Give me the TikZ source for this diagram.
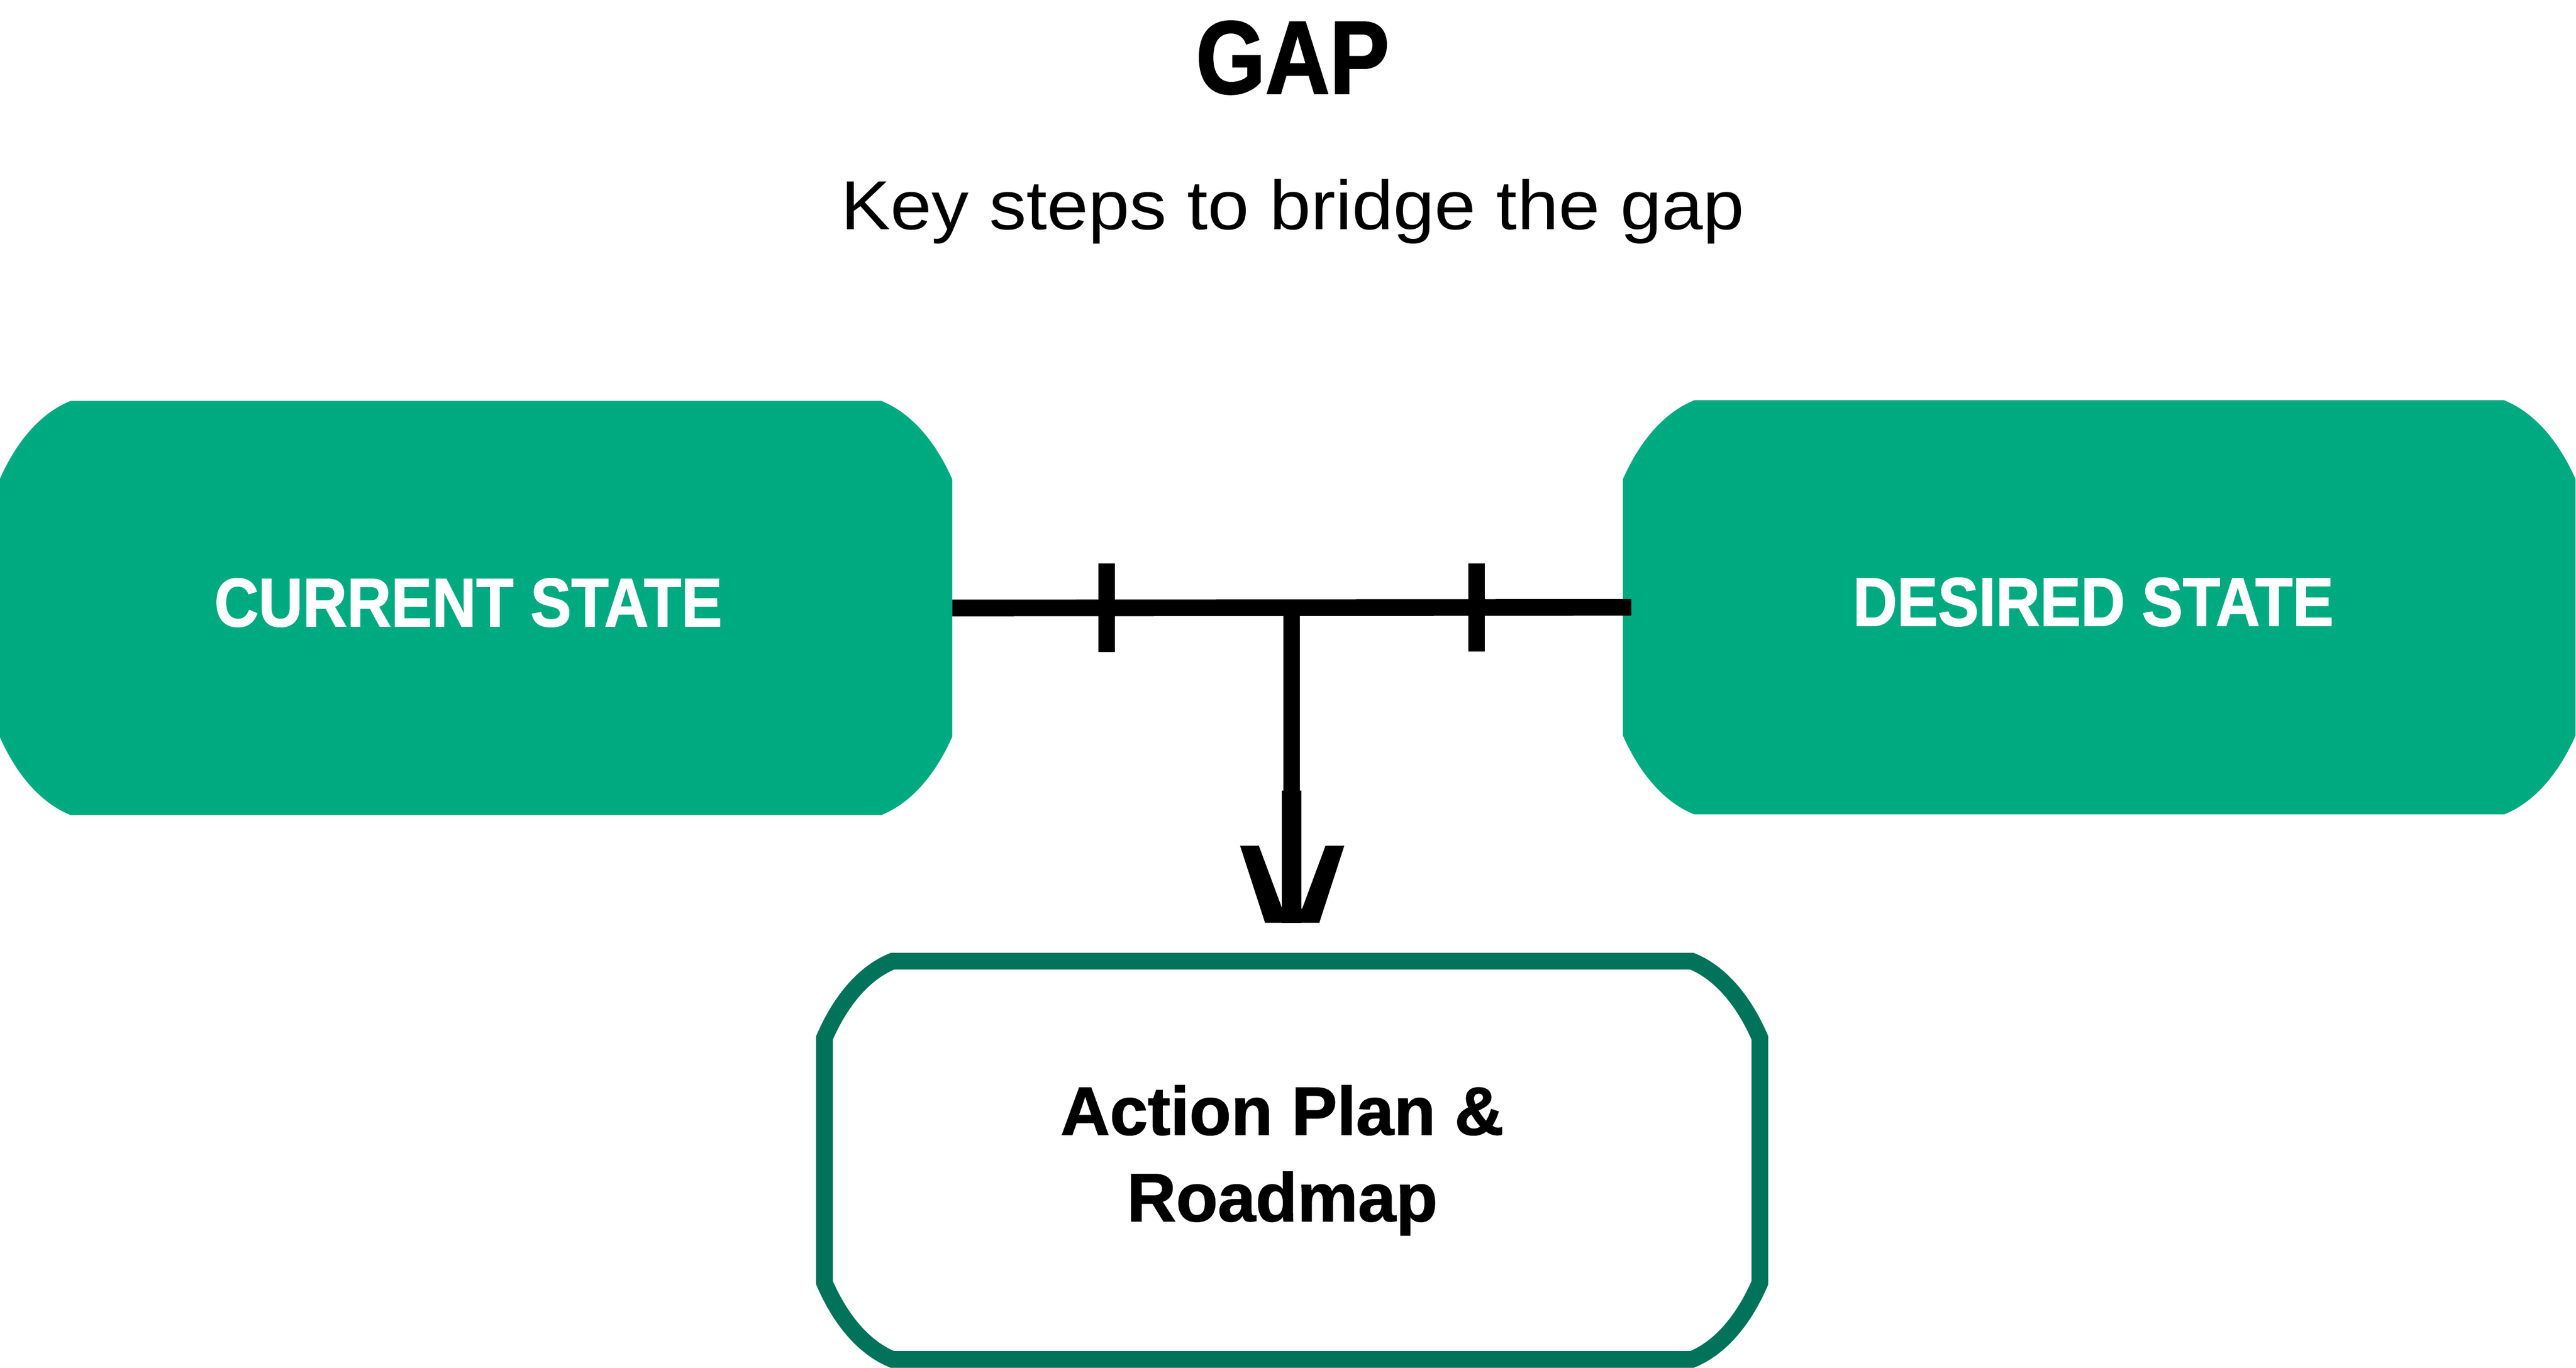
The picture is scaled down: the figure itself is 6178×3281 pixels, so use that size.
\documentclass[tikz,border=0pt]{standalone}
\usepackage{fontspec}
\setmainfont{Liberation Sans}
\newfontfamily\condfont{Liberation Sans}[FakeStretch=0.89, BoldFeatures={FakeBold=1.3}]
\newfontfamily\titlefont{Liberation Sans}[FakeStretch=0.86, BoldFeatures={FakeBold=1.5}]
\newfontfamily\heavyfont{Liberation Sans}[BoldFeatures={FakeBold=1.3}]
\newfontfamily\widefont{Liberation Sans}[FakeStretch=1.07]
\usetikzlibrary{calc,backgrounds}
\definecolor{boxgreen}{HTML}{00AA80}
\definecolor{edgegreen}{HTML}{00735A}
% beveled box outline built from a node's corners: #1 node, #2 horizontal cut, #3 vertical cut
\newcommand\bevelpath[3]{%
 ($(#1.north west)+(#2,0)$) -- ($(#1.north east)+(-#2,0)$)
 .. controls ($(#1.north east)+(-0.518*#2,0.176*#3)$) and ($(#1.north east)+(-0.194*#2,0.601*#3)$) .. ($(#1.north east)+(0,#3)$)
 -- ($(#1.south east)+(0,-#3)$)
 .. controls ($(#1.south east)+(-0.194*#2,-0.601*#3)$) and ($(#1.south east)+(-0.518*#2,-0.176*#3)$) .. ($(#1.south east)+(-#2,0)$)
 -- ($(#1.south west)+(#2,0)$)
 .. controls ($(#1.south west)+(0.518*#2,-0.176*#3)$) and ($(#1.south west)+(0.194*#2,-0.601*#3)$) .. ($(#1.south west)+(0,-#3)$)
 -- ($(#1.north west)+(0,#3)$)
 .. controls ($(#1.north west)+(0.194*#2,0.601*#3)$) and ($(#1.north west)+(0.518*#2,0.176*#3)$) .. ($(#1.north west)+(#2,0)$)
 -- cycle}
\tikzset{
 statebox/.style={minimum width=649.6pt, minimum height=282.5pt, inner sep=0pt, outer sep=0pt,
   text=white, text depth=7.7pt, font=\condfont\bfseries\fontsize{46.9}{56}\selectfont},
 actbox/.style={minimum width=637.9pt, minimum height=271.7pt, inner sep=0pt, outer sep=0pt,
   align=center, text=black, font=\heavyfont\bfseries\fontsize{46.5}{59}\selectfont},
 conn/.style={draw=black, line width=11.38pt},
 titletext/.style={font=\titlefont\bfseries\fontsize{70.7}{80}\selectfont, anchor=base, inner sep=0pt},
 subtext/.style={font=\widefont\fontsize{47.3}{56}\selectfont, anchor=base, inner sep=0pt}
}
\begin{document}
\begin{tikzpicture}[x=0.01cm,y=-0.01cm]
\useasboundingbox (0,0) rectangle (6178,3281);
% texts
\node[titletext] (title) at (3100,224) {GAP};
\node[subtext] (subtitle) at (3100,550) {Key steps to bridge the gap};
% boxes
\node[statebox] (cur) at (1141.5,1458.5) {CURRENT STATE\kern10.5pt};
\node[statebox] (des) at (5034.5,1457) {DESIRED STATE\kern8.2pt};
\node[actbox] (act) at (3099,2783.5) {Action Plan \&\kern13.6pt\\Roadmap\kern13.6pt};
\begin{scope}[on background layer]
 \fill[white] (0,0) rectangle (6178,3281);
 \fill[boxgreen] \bevelpath{cur}{170}{188};
 \fill[boxgreen] \bevelpath{des}{171}{189};
\end{scope}
\draw[edgegreen, line width=11.38pt] \bevelpath{act}{163}{184};
% connector between states with ticks
\draw[conn] (cur.east) -- coordinate[pos=0.2275] (t1) coordinate[pos=0.4997] (j) coordinate[pos=0.7719] (t2) ([xshift=5.7pt]des.west);
\draw[conn] ($(t1)+(0,-106)$) -- ($(t1)+(0,106)$);
\draw[conn] ($(t2)+(0,-106)$) -- ($(t2)+(0,106)$);
% arrow down to action plan
\coordinate (tip) at ($(act.north)+(0,-92)$);
\draw[conn] (j) -- (j |- tip);
\draw[line width=13.4pt] ($(j |- tip)+(0,-317)$) -- (j |- tip);
\fill[black] ($(tip)+(-125,-185)$) -- ($(tip)+(-80,-185)$) -- ($(tip)+(-24,-34)$) -- ($(tip)+(24,-34)$)
  -- ($(tip)+(80,-185)$) -- ($(tip)+(125,-185)$) -- ($(tip)+(65,0)$) -- ($(tip)+(-65,0)$) -- cycle;
\end{tikzpicture}
\end{document}
